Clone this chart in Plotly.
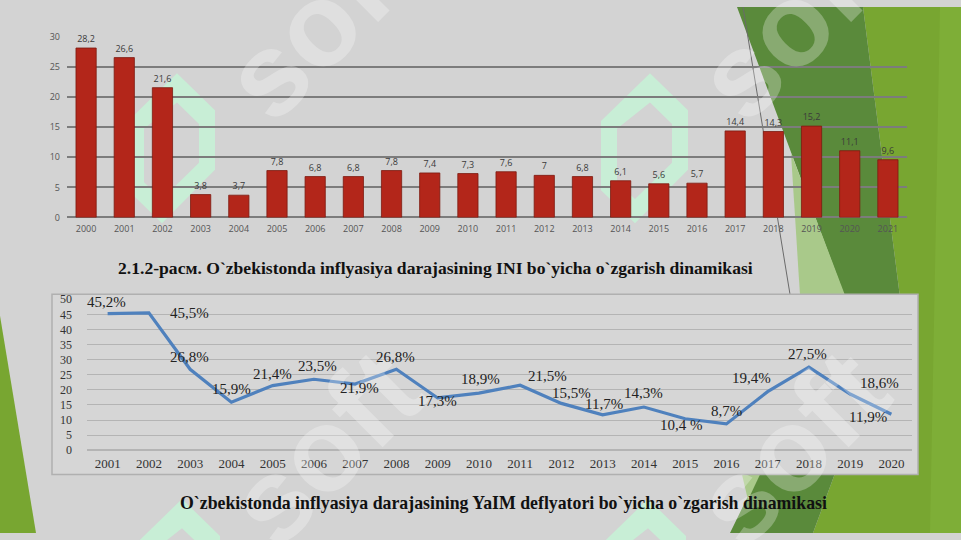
import plotly.graph_objects as go

W, H = 961, 540

# ---------------- data ----------------
years_cpi = [str(y) for y in range(2000, 2022)]
cpi = [28.2, 26.6, 21.6, 3.8, 3.7, 7.8, 6.8, 6.8, 7.8, 7.4, 7.3, 7.6, 7.0, 6.8,
       6.1, 5.6, 5.7, 14.4, 14.3, 15.2, 11.1, 9.6]
cpi_labels = ["28,2", "26,6", "21,6", "3,8", "3,7", "7,8", "6,8", "6,8", "7,8", "7,4",
              "7,3", "7,6", "7", "6,8", "6,1", "5,6", "5,7", "14,4", "14,3", "15,2",
              "11,1", "9,6"]
cpi_ticks = [0, 5, 10, 15, 20, 25, 30]

years_defl = [str(y) for y in range(2001, 2021)]
defl = [45.2, 45.5, 26.8, 15.9, 21.4, 23.5, 21.9, 26.8, 17.3, 18.9, 21.5, 15.5,
        11.7, 14.3, 10.4, 8.7, 19.4, 27.5, 18.6, 11.9]
defl_labels = ["45,2%", "45,5%", "26,8%", "15,9%", "21,4%", "23,5%", "21,9%", "26,8%",
               "17,3%", "18,9%", "21,5%", "15,5%", "11,7%", "14,3%", "10,4 %", "8,7%",
               "19,4%", "27,5%", "18,6%", "11,9%"]
defl_ticks = [0, 5, 10, 15, 20, 25, 30, 35, 40, 45, 50]

# label offsets (pixels) for the deflator labels
label_dx = [-1, 41, -1, 0, 0, 4, 4, -1, 0, 2, 27, 10, 1, 0, -4, 0, -16, -1, 29, -23]
label_dy = [12, 0, 12, 13, 12, 13, -4, 12, -3, 14, 9, 10, 11, 14, -6, 13, 14, 13, 11, -3]

caption1 = "2.1.2-расм. O`zbekistonda inflyasiya darajasining INI bo`yicha o`zgarish dinamikasi"
caption2 = "O`zbekistonda inflyasiya darajasining YaIM deflyatori bo`yicha o`zgarish dinamikasi"


def fx(x):
    return x / W


def fy(y):
    return 1 - y / H


def poly(pts):
    s = "M " + " L ".join(f"{fx(x):.5f},{fy(y):.5f}" for x, y in pts) + " Z"
    return s


BG = "#d3d3d3"
DARK = "#5a8a3b"
BRIGHT = "#78a631"
PALE = "#a9c98a"
MINT = "#c8eed6"

fig = go.Figure()

fig.add_trace(go.Bar(
    x=years_cpi, y=cpi, text=cpi_labels, textposition="outside",
    textfont=dict(family="Open Sans, Arial", size=9, color="#3a3a3a"),
    marker=dict(color="#b3261a", line=dict(color="#7c1a10", width=0.8)),
    cliponaxis=False, xaxis="x", yaxis="y", showlegend=False,
))

fig.add_trace(go.Scatter(
    x=years_defl, y=defl, mode="lines",
    line=dict(color="#4f81bd", width=3.2),
    xaxis="x2", yaxis="y2", showlegend=False,
))

shapes = []
# green decorative polygons
shapes.append(dict(type="path", xref="paper", yref="paper", layer="below",
                   path=poly([(863, 0), (961, 0), (961, 540), (813, 540), (900, 298)]),
                   fillcolor=BRIGHT, line=dict(width=0)))
shapes.append(dict(type="path", xref="paper", yref="paper", layer="below",
                   path=poly([(940, 0), (961, 0), (961, 540), (930, 540)]),
                   fillcolor="#7eae37", line=dict(width=0)))
shapes.append(dict(type="path", xref="paper", yref="paper", layer="below",
                   path=poly([(737, 0), (863, 0), (900, 298), (813, 540), (730, 540), (845, 298)]),
                   fillcolor=DARK, line=dict(width=0)))
shapes.append(dict(type="path", xref="paper", yref="paper", layer="below",
                   path=poly([(791, 150), (800, 296), (845, 296)]),
                   fillcolor=PALE, line=dict(width=0)))
shapes.append(dict(type="path", xref="paper", yref="paper", layer="below",
                   path=poly([(742, 480), (760, 480), (748, 506)]),
                   fillcolor=PALE, line=dict(width=0)))
shapes.append(dict(type="path", xref="paper", yref="paper", layer="below",
                   path=poly([(0, 317), (36, 540), (0, 540)]),
                   fillcolor=BRIGHT, line=dict(width=0)))
shapes.append(dict(type="line", xref="paper", yref="paper", layer="below",
                   x0=fx(743), y0=fy(0), x1=fx(790), y1=fy(295),
                   line=dict(color="#6a6a6a", width=1)))

# mint logo watermarks
logo_outer = [(0, 0), (38, 38), (38, 99), (-15, 154), (-49, 120), (-49, 49)]
logo_inner = [(0, 30), (-33, 57), (-33, 112), (-15, 129), (22, 92), (22, 52)]
for (lx, ly) in [(177, 68), (650, 68), (182, 505), (648, 505)]:
    o = [(lx + a, ly + b) for a, b in logo_outer]
    i = [(lx + a, ly + b) for a, b in logo_inner]
    shapes.append(dict(type="path", xref="paper", yref="paper", layer="below",
                       path=poly(o) + " " + poly(i),
                       fillcolor=MINT, line=dict(width=0)))

# bottom chart box
shapes.append(dict(type="rect", xref="paper", yref="paper", layer="below",
                   x0=fx(52), x1=fx(918), y0=fy(480), y1=fy(295),
                   fillcolor="#d6d6d6", line=dict(color="#b0b0b0", width=1.5)))

annotations = []
# "soft" watermarks
for (cx, cy) in [(320, 15), (793, 15), (325, 452), (791, 452)]:
    annotations.append(dict(xref="paper", yref="paper", x=fx(cx), y=fy(cy),
                            text="<b>soft</b>", showarrow=False, textangle=-45,
                            font=dict(family="Liberation Sans, Arial", size=118,
                                      color="rgba(255,255,255,0.28)"),
                            xanchor="center", yanchor="middle"))

for i, (v, t) in enumerate(zip(defl, defl_labels)):
    annotations.append(dict(xref="x2", yref="y2", x=i, y=v, text=t, showarrow=False,
                            xshift=label_dx[i], yshift=label_dy[i],
                            xanchor="center", yanchor="middle",
                            font=dict(family="Liberation Serif, Times New Roman", size=15,
                                      color="#222222")))

annotations.append(dict(xref="paper", yref="paper", x=fx(435), y=fy(268), text=f"<b>{caption1}</b>",
                        showarrow=False, xanchor="center", yanchor="middle",
                        font=dict(family="Liberation Serif, Times New Roman", size=17.6, color="#111111")))
annotations.append(dict(xref="paper", yref="paper", x=fx(503), y=fy(509), text=f"<b>{caption2}</b>",
                        showarrow=False, xanchor="center", yanchor="middle",
                        font=dict(family="Liberation Serif, Times New Roman", size=17.8, color="#111111")))

fig.update_layout(
    width=W, height=H, margin=dict(l=0, r=0, t=0, b=0),
    paper_bgcolor=BG, plot_bgcolor="rgba(0,0,0,0)",
    bargap=0.47, showlegend=False,
    shapes=shapes, annotations=annotations,
    xaxis=dict(domain=[fx(67), fx(907)], type="category", showgrid=False,
               range=[-0.5, len(years_cpi) - 0.5], ticklabelstandoff=5,
               tickfont=dict(family="Open Sans, Arial", size=9, color="#555555"),
               ticks="", showline=False, zeroline=False, anchor="y"),
    yaxis=dict(domain=[fy(216), fy(31)], range=[0, 30], tickvals=cpi_ticks,
               gridcolor="#7c7c7c", gridwidth=1.5, zeroline=True, zerolinecolor="#7c7c7c",
               zerolinewidth=1.5, ticks="", ticklabelstandoff=6,
               tickfont=dict(family="Open Sans, Arial", size=9, color="#555555"),
               anchor="x"),
    xaxis2=dict(domain=[fx(87), fx(912)], type="category", showgrid=False,
                range=[-0.5, len(years_defl) - 0.5], ticklabelstandoff=4,
                tickfont=dict(family="Liberation Serif, Times New Roman", size=13, color="#333333"),
                ticks="", showline=False, zeroline=False, anchor="y2"),
    yaxis2=dict(domain=[fy(455), fy(300)], range=[0, 50], tickvals=defl_ticks,
                gridcolor="#b4b4b4", gridwidth=1, zeroline=True, zerolinecolor="#b4b4b4",
                ticks="", ticklabelstandoff=14,
                tickfont=dict(family="Liberation Serif, Times New Roman", size=12, color="#333333"),
                anchor="x2"),
)

fig.write_html("out.html")
